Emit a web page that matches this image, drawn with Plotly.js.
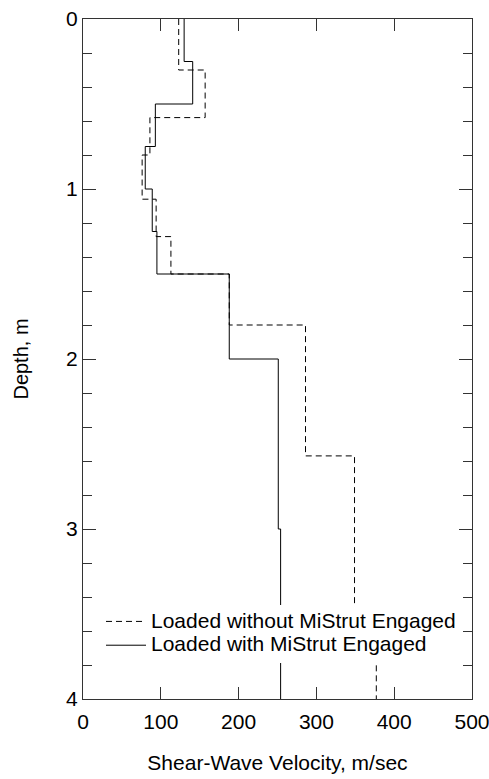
<!DOCTYPE html>
<html>
<head>
<meta charset="utf-8">
<script src="https://cdn.plot.ly/plotly-3.0.1.min.js"></script>
<style>html,body{margin:0;padding:0;background:#fff;}#chart{width:489px;height:779px;}
#chart .legend .legendtext{font-size:21px !important;}
#chart .legend .scrollbox{clip-path:none !important;}</style>
</head>
<body>
<div id="chart"></div>
<script>
// Layer boundaries (depth, m) and shear-wave velocities (m/sec)
const withoutDepths = [0, 0.3, 0.58, 0.8, 1.06, 1.28, 1.5, 1.8, 2.57, 3.6, 4.0];
const withoutVs     = [123, 157, 86, 76, 94, 113, 188, 286, 349, 377];
const withDepths    = [0, 0.25, 0.5, 0.75, 1.0, 1.25, 1.5, 2.0, 3.0, 4.0];
const withVs        = [130, 141, 93, 80, 89, 95, 188, 251, 254];
const seriesNames   = ["Loaded without MiStrut Engaged", "Loaded with MiStrut Engaged"];
const xTickVals = [0, 100, 200, 300, 400, 500];
const yTickVals = [0, 1, 2, 3, 4];

function profile(depths, vs) {
  const x = [], y = [];
  for (let i = 0; i < vs.length; i++) {
    x.push(vs[i], vs[i]);
    y.push(depths[i], depths[i + 1]);
  }
  return {x, y};
}

const pWithout = profile(withoutDepths, withoutVs);
const pWith = profile(withDepths, withVs);

const fam = "Arial, 'Liberation Sans', sans-serif";
const font = {family: fam, size: 21, color: "#000"};

const traces = [
  {x: pWithout.x, y: pWithout.y, mode: "lines", name: seriesNames[0],
   line: {color: "#000", width: 1, dash: "6px,4px"}},
  {x: pWith.x, y: pWith.y, mode: "lines", name: seriesNames[1],
   line: {color: "#000", width: 1}}
];

const layout = {
  width: 489, height: 779,
  margin: {l: 83, r: 17, t: 19, b: 80},
  paper_bgcolor: "#fff", plot_bgcolor: "#fff",
  font: font,
  showlegend: true,
  legend: {x: 0.0463, y: 0.0963, xanchor: "left", yanchor: "middle",
           bgcolor: "#fff", borderwidth: 0, itemwidth: 40, tracegroupgap: 0,
           font: {family: fam, size: 16, color: "#000"}},
  xaxis: {range: [0, 500], tickvals: xTickVals, ticks: "inside", ticklen: 12,
          tickcolor: "#333", showline: true, linecolor: "#333", linewidth: 1,
          mirror: "allticks", showgrid: false, zeroline: false,
          tickfont: font, ticklabelstandoff: 4, ticklabeloverflow: "allow",
          title: {text: "Shear-Wave Velocity, m/sec", font: font, standoff: 23}},
  yaxis: {range: [4, 0], tickvals: yTickVals, ticks: "inside", ticklen: 13,
          tickcolor: "#333", showline: true, linecolor: "#333", linewidth: 1,
          mirror: "allticks", showgrid: false, zeroline: false,
          tickfont: font, ticklabeloverflow: "allow",
          minor: {dtick: 0.2, ticks: "inside", ticklen: 9, tickcolor: "#333", showgrid: false},
          title: {text: "Depth, m", font: {family: fam, size: 20, color: "#000"}, standoff: 32}}
};

Plotly.newPlot("chart", traces, layout, {displayModeBar: false, staticPlot: true});
</script>
</body>
</html>
